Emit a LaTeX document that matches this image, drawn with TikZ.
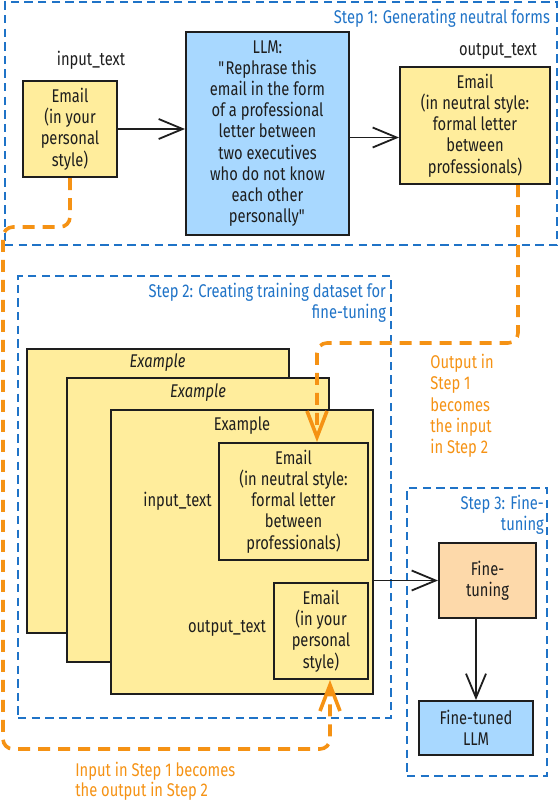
\documentclass[tikz,border=0pt]{standalone}
\usepackage{fontspec}
\setmainfont{Fira Sans}[FakeStretch=0.8]
\usepackage{tikz}
\usetikzlibrary{arrows.meta,positioning,calc}
\usepackage{xcolor}
\definecolor{stepblue}{RGB}{31,115,199}
\definecolor{flowor}{RGB}{245,146,20}
\definecolor{mailyel}{RGB}{255,237,156}
\definecolor{llmblue}{RGB}{168,216,255}
\definecolor{tunepeach}{RGB}{253,217,170}
\definecolor{ink}{RGB}{30,30,30}

\begin{document}
\begin{tikzpicture}[x=0.5pt, y=-0.5pt,
    every node/.style={font=\fontsize{9.2}{10.6}\selectfont, text=ink},
    mailbox/.style={draw=ink, line width=1pt, fill=mailyel, align=center,
                    inner sep=0pt},
    llmbox/.style={mailbox, fill=llmblue},
    tunebox/.style={mailbox, fill=tunepeach},
    exbox/.style={draw=ink, line width=1pt, fill=mailyel, minimum width=131pt,
                  minimum height=142pt},
    stepframe/.style={draw=stepblue, line width=1.3pt,
                      dash pattern=on 4.2pt off 2.6pt},
    steplabel/.style={text=stepblue, align=right, anchor=north east, inner sep=1pt},
    flowlabel/.style={text=flowor, align=left, anchor=north west, inner sep=0pt},
    arr/.style={-{Straight Barb[length=12pt,width=10pt]}, line width=0.9pt, ink},
    flow/.style={draw=flowor, line width=1.8pt, dash pattern=on 6pt off 4pt,
                 rounded corners=5pt,
                 -{Straight Barb[length=13pt,width=10pt,line width=1.8pt]}}
]
\useasboundingbox (0,0) rectangle (559,800);

% Step frames
\node[stepframe, minimum width=276pt, minimum height=121.5pt] (step1) at (281,123.5) {};
\node[stepframe, minimum width=186.5pt, minimum height=221pt] (step2) at (204.5,497) {};
\node[stepframe, minimum width=70pt, minimum height=144pt] (step3) at (477,632) {};

\node[steplabel] at ([xshift=-3pt, yshift=-3pt]step1.north east) {Step 1: Generating neutral forms};
\node[steplabel] at ([xshift=-2pt, yshift=-3pt]step2.north east) {Step 2: Creating training dataset for\\fine-tuning};
\node[steplabel] at ([xshift=-1pt, yshift=-3pt]step3.north east) {Step 3: Fine-\\tuning};

% Step 1: rephrasing
\node at (91,60) {input\_text};
\node at (498,51) {output\_text};

\node[mailbox, minimum width=47pt, minimum height=48pt] (mail1) at (70,129)
     {Email\\(in your\\personal\\style)};
\node[llmbox, minimum width=81.5pt, minimum height=101.5pt] (llm) at (267.5,133.5)
     {LLM:\\\textquotedbl Rephrase this\\email in the form\\of a professional\\letter between\\two executives\\who do not know\\each other\\personally\textquotedbl};
\node[mailbox, minimum width=75pt, minimum height=58.5pt] (neutral1) at (475,125.5)
     {Email\\(in neutral style:\\formal letter\\between\\professionals)};

\draw[arr] (mail1.east) -- (mail1.east -| llm.west);
\draw[arr] ([yshift=-2pt]llm.east) -- ([yshift=-2pt]llm.east -| neutral1.west);

% Step 2: stacked examples
\node[exbox] (exA) at (157.5,491) {};
\node[font=\fontsize{9.2}{10.6}\selectfont\itshape] at ([yshift=-7.5pt]exA.north) {Example};
\node[exbox] (exB) at (198,520) {};
\node[font=\fontsize{9.2}{10.6}\selectfont\itshape] at ([yshift=-8pt]exB.north) {Example};
\node[exbox] (exC) at (242,552) {};
\node at ([yshift=-8.5pt]exC.north) {Example};

\node[mailbox, minimum width=74.5pt, minimum height=58.5pt] (neutral2) at (293.5,501.5)
     {Email\\(in neutral style:\\formal letter\\between\\professionals)};
\node[mailbox, minimum width=47pt, minimum height=48pt] (mail2) at (321,631)
     {Email\\(in your\\personal\\style)};
\node[anchor=east, inner sep=1pt] at ([xshift=-2pt]neutral2.west) {input\_text};
\node at (227,628) {output\_text};

% Step 3: fine-tuning
\node[tunebox, minimum width=48.5pt, minimum height=37.5pt] (tune) at (487.5,580.5) {Fine-\\tuning};
\node[llmbox, minimum width=57pt, minimum height=27pt] (tuned) at (476,728) {Fine-tuned\\LLM};

\draw[arr] (tune.west -| exC.east) -- (tune.west);
\draw[arr] (tune.south -| tuned.north) -- (tuned.north);

% Orange data flow
\coordinate (outtip) at ($(neutral2.north)+(23.5,0)$);
\coordinate (intip) at ($(mail2.south)+(9,0)$);
\draw[flow] ($(neutral1.south)+(43,0)$) |- (317,343) -- (outtip);
\draw[flow] (mail1.south) |- (3,227) |- (330,749) -- (intip);

\node[flowlabel] at (430,354) {Output in\\Step 1\\becomes\\the input\\in Step 2};
\node[flowlabel, font=\fontsize{9.2}{10}\selectfont] at (75,762) {Input in Step 1 becomes\\the output in Step 2};

\end{tikzpicture}
\end{document}
